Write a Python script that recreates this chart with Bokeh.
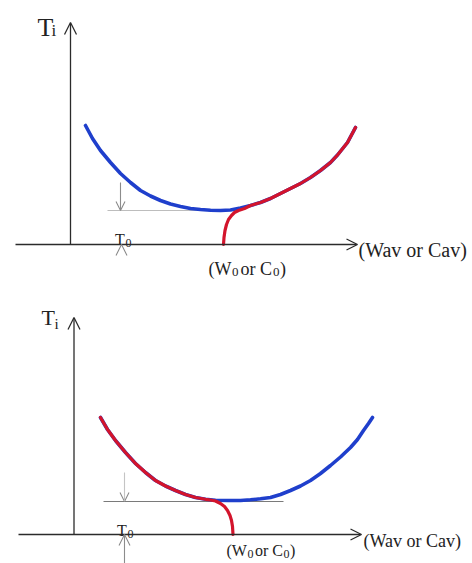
from bokeh.plotting import figure
from bokeh.layouts import column
from bokeh.models import Arrow, OpenHead, Range1d
from bokeh.core.properties import value
from bokeh.embed import file_html
from bokeh.resources import INLINE

# ---- upper panel: W or C above the reference point, Ti vs. Wav/Cav ----
top_blue_x = [85, 92, 100, 110, 120, 130, 140, 150, 160, 170, 180, 190, 200, 210, 220,
              230, 240, 250, 260, 270, 280, 290, 300, 310, 320, 330, 337, 347, 355]
top_blue_y = [119, 106, 94, 82, 71, 62, 54, 48.5, 44, 40.5, 38, 36, 35, 34.2, 34,
              34.5, 36.5, 39, 42, 46, 51, 56, 61, 67, 74, 82, 89.5, 102, 117]
top_red_x = [223, 223.5, 224.5, 226, 228, 231, 234, 238, 244, 250,
             260, 270, 280, 290, 300, 310, 320, 330, 337, 347, 355]
top_red_y = [0, 7, 14, 20, 25, 29, 32, 34, 36, 39,
             42, 46, 51, 56, 61, 67, 74, 82, 89.5, 102, 117]
top_t0 = 34

# ---- lower panel ----
bot_blue_x = [100, 107, 115, 125, 135, 145, 155, 165, 175, 185, 195, 205, 215, 228, 240,
              250, 260, 270, 280, 290, 300, 310, 320, 330, 340, 350, 357, 363, 368, 372]
bot_blue_y = [117, 105, 94, 82, 71, 62, 54, 48.5, 44, 40, 37, 35.2, 34.3, 34, 34,
              34.7, 35.7, 37, 40, 44, 48.5, 54, 61, 69, 77.5, 87, 95, 104, 111, 117]
bot_red_x = [100, 107, 115, 125, 135, 145, 155, 165, 175, 185, 195, 205,
             210, 215, 220, 224, 227, 229.5, 231, 232, 232.5]
bot_red_y = [117, 105, 94, 82, 71, 62, 54, 48.5, 44, 40, 37, 35.2,
             34.5, 33.5, 31, 28, 24, 19, 14, 8, 0]
bot_t0 = 33

BLUE = "#1f3fcc"
RED = "#d3142c"
AXIS = "#2b2b2b"
GREY = "#8c8c8c"
INK = "#222222"
SERIF = value("Liberation Serif")


def make_panel(height, y_lo, y_hi):
    p = figure(width=472, height=height, x_range=Range1d(0, 472), y_range=Range1d(y_lo, y_hi),
               output_backend="svg", toolbar_location=None,
               x_axis_location=None, y_axis_location=None, min_border=0)
    p.grid.visible = False
    p.outline_line_color = None
    p.background_fill_color = "white"
    p.border_fill_color = "white"
    return p


def arrow(p, x0, y0, x1, y1, color, size, width=1.3, body=True, body_color=None):
    p.add_layout(Arrow(end=OpenHead(size=size, line_color=color, line_width=width),
                       x_start=x0, y_start=y0, x_end=x1, y_end=y1,
                       line_color=body_color or color, line_width=width,
                       line_alpha=1.0 if body else 0.0))


def pieces(p, items, y_main, y_sub, size_main, size_sub):
    for x, txt, sub in items:
        p.text(x=[x], y=[y_sub if sub else y_main], text=[txt], text_font=SERIF,
               text_font_size=f"{size_sub if sub else size_main}px", text_color=INK,
               text_align="left", text_baseline="alphabetic")


# upper panel
top = make_panel(280, -36, 244)
arrow(top, 70, 0, 70, 222, AXIS, 12)
arrow(top, 15, 0, 357, 0, AXIS, 11)
top.line([107, 222], [top_t0, top_t0], line_color="#bdbdbd", line_width=1)
top.line(top_blue_x, top_blue_y, line_color=BLUE, line_width=3.6, line_cap="round")
top.line(top_red_x, top_red_y, line_color=RED, line_width=3.2, line_cap="round")
arrow(top, 120, 62, 120, top_t0, GREY, 9, width=1.1)
arrow(top, 121, -9, 121, 0, GREY, 11, width=1.1, body=False)
pieces(top, [(37, "T", False), (51, "i", True)], 217, 214, 26, 17)
pieces(top, [(114.5, "T", False), (125, "0", True)], 5, 1.5, 16, 12)
pieces(top, [(358, "(Wav or Cav)", False)], -5, -5, 20, 20)
pieces(top, [(208, "(W", False), (231.5, "0", True), (240, "or C", False),
             (272.5, "0", True), (279.5, ")", False)], -24, -27, 18, 13)

# lower panel
bot = make_panel(283, -29, 254)
arrow(bot, 73.5, 0, 73.5, 217, AXIS, 12)
arrow(bot, 18, 0, 361, 0, AXIS, 11)
bot.line([103, 283], [bot_t0, bot_t0], line_color="#7a7a7a", line_width=1)
bot.line(bot_blue_x, bot_blue_y, line_color=BLUE, line_width=3.6, line_cap="round")
bot.line(bot_red_x, bot_red_y, line_color=RED, line_width=3.2, line_cap="round")
arrow(bot, 124, 62, 124, bot_t0, GREY, 9, width=1.1, body_color="#c4c4c4")
arrow(bot, 124, -29, 124, 0, GREY, 11, width=1.1)
pieces(bot, [(41, "T", False), (54, "i", True)], 217, 211, 22, 15)
pieces(bot, [(116.5, "T", False), (127, "0", True)], 4, 0.5, 16, 12)
pieces(bot, [(363, "(Wav or Cav)", False)], -6, -6, 18, 18)
pieces(bot, [(226, "(W", False), (247, "0", True), (254.5, "or C", False),
             (283, "0", True), (289.5, ")", False)], -16, -19, 16, 12)

layout = column(top, bot, spacing=0)
open("out.html", "w").write(file_html(layout, INLINE))
